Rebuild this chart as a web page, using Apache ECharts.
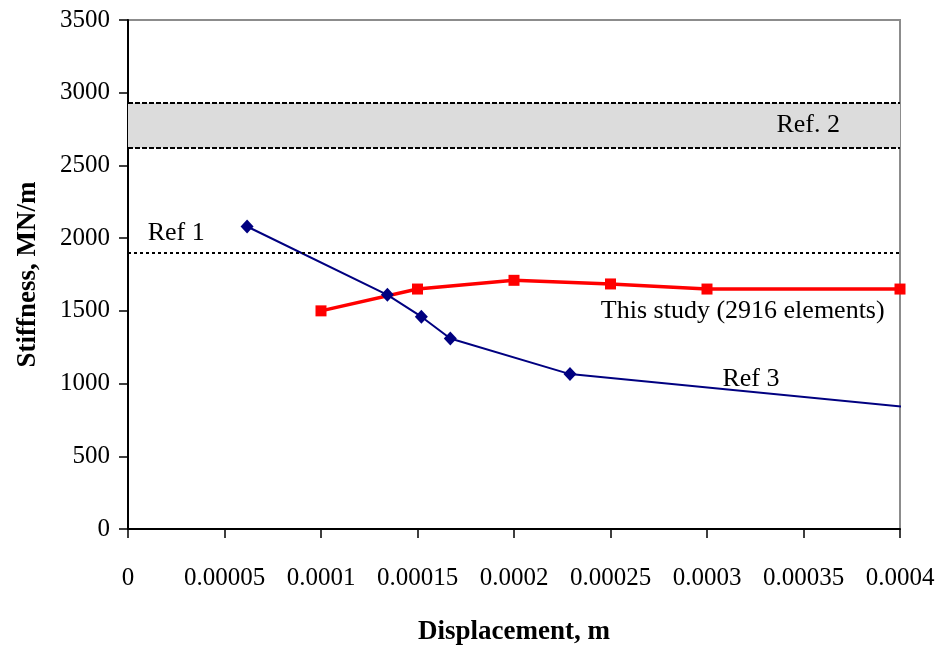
<!DOCTYPE html>
<html>
<head>
<meta charset="utf-8">
<script src="https://cdn.jsdelivr.net/npm/echarts@6/dist/echarts.min.js"></script>
<style>
  html, body { margin: 0; padding: 0; background: #fff; }
  #chart { width: 940px; height: 645px; }
</style>
</head>
<body>
<div id="chart"></div>
<script>
// Stiffness vs. displacement
const xTicks = [0, 0.00005, 0.0001, 0.00015, 0.0002, 0.00025, 0.0003, 0.00035, 0.0004];
const yTicks = [0, 500, 1000, 1500, 2000, 2500, 3000, 3500];

// This study (2916 elements)
const studyX = [0.0001, 0.00015, 0.0002, 0.00025, 0.0003, 0.0004];
const studyY = [1500, 1650, 1710, 1685, 1650, 1650];

// Ref 3
const ref3X = [0.0000617, 0.0001344, 0.000152, 0.000167, 0.000229, 0.000404];
const ref3Y = [2080, 1610, 1460, 1310, 1065, 838];

// Ref 1 (single value) and Ref. 2 (range)
const ref1Value = 1900;
const ref2Range = [2620, 2930];

const FONT = '"Liberation Serif", "Times New Roman", serif';

const chart = echarts.init(document.getElementById('chart'), null, { renderer: 'canvas' });

const studyData = studyX.map((x, i) => [x, studyY[i]]);
const ref3Data = ref3X.map((x, i) => {
  const item = { value: [x, ref3Y[i]] };
  if (x > 0.0004) item.symbol = 'none';
  return item;
});

const tickText = (ticks, v) => {
  const t = ticks.find(k => Math.abs(k - v) < 1e-9 * Math.max(1, Math.abs(k)));
  if (t === undefined) return '';
  return t < 1 && t > 0 ? t.toFixed(5).replace(/0+$/, '') : String(t);
};

chart.setOption({
  animation: false,
  backgroundColor: '#ffffff',
  grid: {
    left: 128, right: 40, top: 20, bottom: 116,
    outerBoundsMode: 'none', containLabel: false,
    show: true, borderColor: '#8c8c8c', borderWidth: 2, backgroundColor: 'transparent'
  },
  xAxis: {
    type: 'value', min: 0, max: 0.0004, interval: 0.00005,
    name: 'Displacement, m', nameLocation: 'middle', nameGap: 90,
    nameTextStyle: { fontFamily: FONT, fontSize: 27, fontWeight: 'bold', color: '#000' },
    axisLine: { show: true, lineStyle: { color: '#000', width: 2 } },
    axisTick: { show: true, length: 9, lineStyle: { color: '#000', width: 1.5 } },
    axisLabel: {
      margin: 37, fontFamily: FONT, fontSize: 25, color: '#000',
      formatter: v => tickText(xTicks, v)
    },
    splitLine: { show: false }
  },
  yAxis: {
    type: 'value', min: 0, max: 3500, interval: 500,
    name: 'Stiffness, MN/m', nameLocation: 'middle', nameGap: 86, nameRotate: 90,
    nameTextStyle: { fontFamily: FONT, fontSize: 27, fontWeight: 'bold', color: '#000' },
    axisLine: { show: true, lineStyle: { color: '#000', width: 2 } },
    axisTick: { show: true, length: 9, lineStyle: { color: '#000', width: 1.5 } },
    axisLabel: { margin: 18, fontFamily: FONT, fontSize: 25, color: '#000',
      formatter: v => tickText(yTicks, v) },
    splitLine: { show: false }
  },
  series: [
    {
      name: 'Ref. 2', type: 'line', data: [], silent: true,
      markArea: {
        silent: true,
        itemStyle: { color: '#dcdcdc' },
        data: [[{ yAxis: ref2Range[0] }, { yAxis: ref2Range[1] }]]
      },
      markLine: {
        silent: true, symbol: 'none', label: { show: false },
        lineStyle: { color: '#000', width: 2, type: [5, 2] },
        data: [{ yAxis: ref2Range[0] }, { yAxis: ref2Range[1] }]
      }
    },
    {
      name: 'Ref 1', type: 'line', data: [], silent: true,
      markLine: {
        silent: true, symbol: 'none', label: { show: false },
        lineStyle: { color: '#000', width: 2, type: [3, 3] },
        data: [{ yAxis: ref1Value }]
      }
    },
    {
      name: 'Ref 3', type: 'line', data: ref3Data, clip: false,
      symbol: 'diamond', symbolSize: [13, 14],
      lineStyle: { color: '#000080', width: 2 },
      itemStyle: { color: '#000080' }
    },
    {
      name: 'This study (2916 elements)', type: 'line', data: studyData, clip: false,
      symbol: 'rect', symbolSize: 11,
      lineStyle: { color: '#ff0000', width: 3.5 },
      itemStyle: { color: '#ff0000' }
    }
  ]
});

// Text annotations placed at data coordinates
const labels = [
  { text: 'Ref 1', at: [0.0000102, 2035] },
  { text: 'Ref. 2', at: [0.000336, 2775] },
  { text: 'This study (2916 elements)', at: [0.000245, 1500] },
  { text: 'Ref 3', at: [0.000308, 1030] }
];
chart.setOption({
  graphic: labels.map(l => {
    const p = chart.convertToPixel({ gridIndex: 0 }, l.at);
    return {
      type: 'text', x: p[0], y: p[1], z: 100,
      style: {
        text: l.text, fill: '#000', font: '26px ' + FONT,
        textAlign: 'left', textVerticalAlign: 'middle'
      }
    };
  })
});
</script>
</body>
</html>
